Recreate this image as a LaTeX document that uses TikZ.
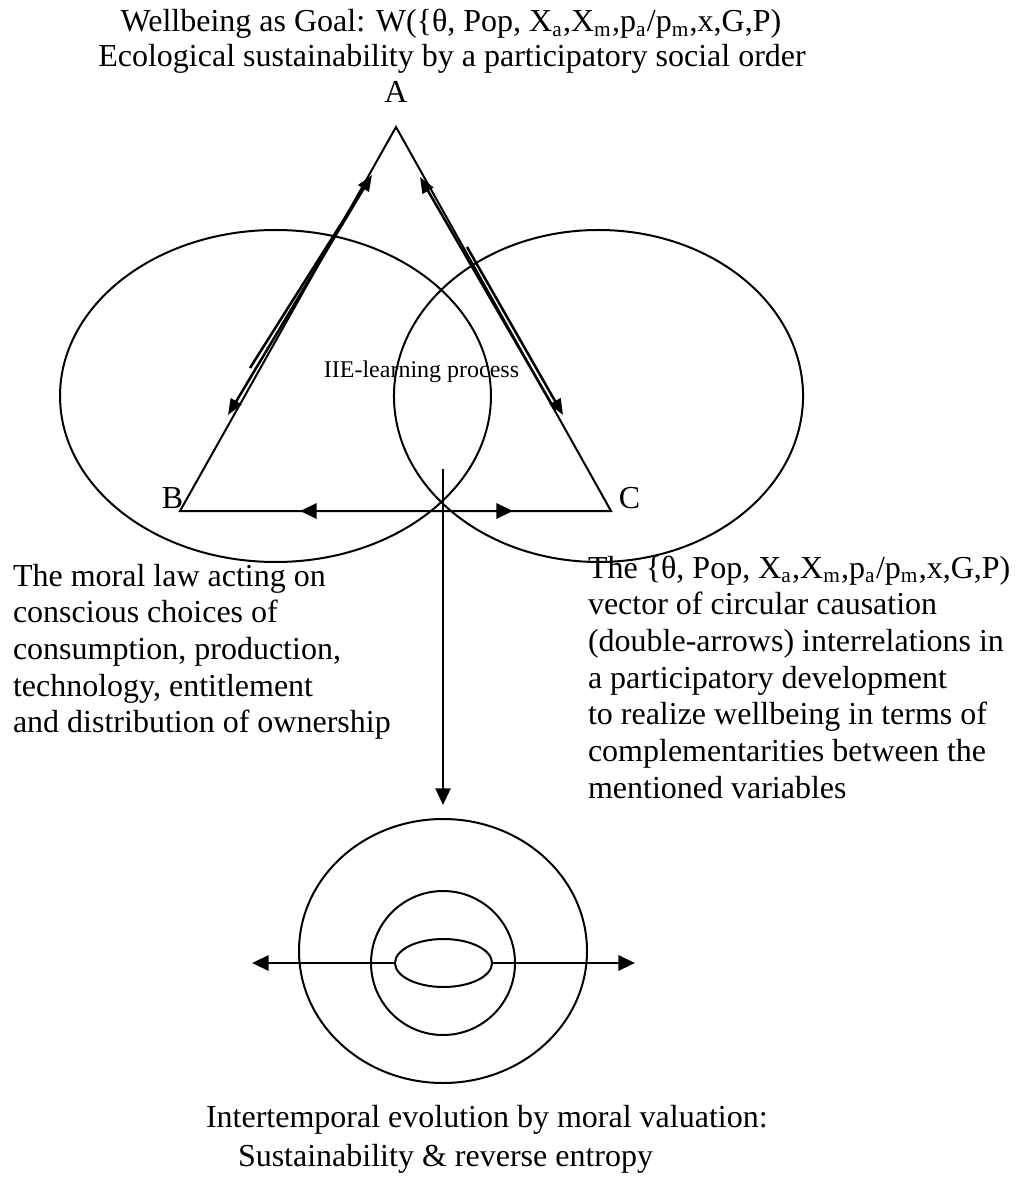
\documentclass[tikz,border=0pt]{standalone}
\usepackage{fontspec}
\setmainfont{Liberation Serif}
\usetikzlibrary{arrows.meta,shapes.geometric}
\tikzset{
  bigtip/.tip={Triangle[length=6.2pt,width=5.6pt]},
  sidetip/.tip={Triangle[length=6pt,width=4.6pt]}
}
\begin{document}
\begin{tikzpicture}[x=0.375pt,y=-0.375pt,
  line width=0.75pt,
  tip/.style={line width=0.95pt, -{sidetip}},
  thick arrow/.style={line width=1.1pt},
  bigtext/.style={font=\fontsize{12}{13.76}\selectfont, inner sep=0pt},
  ring/.style={draw, ellipse, inner sep=0pt, line width=0.75pt}]
\useasboundingbox (0,0) rectangle (1025,1182);

% titles
\node[bigtext, anchor=base] (t1) at (451,32) {Wellbeing as Goal: W(\{θ, Pop, X\textsubscript{a},X\textsubscript{m},p\textsubscript{a}/p\textsubscript{m},x,G,P)};
\node[bigtext, anchor=base] (t2) at (452,67) {Ecological sustainability by a participatory social order};

% triangle vertices
\coordinate (A) at (396,127);
\coordinate (B) at (180,511);
\coordinate (C) at (611,511);
\draw (A) -- (B) -- (C) -- cycle;
\node[bigtext, anchor=base] (la) at (396,103) {A};
\node[bigtext, anchor=base] (lb) at (172.5,508) {B};
\node[bigtext, anchor=base] (lc) at (629.5,508) {C};

% ellipses
\node[ring, minimum width=161.6pt, minimum height=124.5pt] (E1) at (275.5,396) {};
\node[ring, minimum width=153.4pt, minimum height=124.5pt] (E2) at (598.5,396) {};
\node[font=\fontsize{9}{10}\selectfont, inner sep=0pt, anchor=base] (iie) at (421.5,378) {IIE-learning process};

% side double arrows
\coordinate (l1s) at (250,368); \coordinate (l1e) at (372,175);
\coordinate (l2s) at (367,183); \coordinate (l2e) at (228,415);
\coordinate (r1s) at (555,410); \coordinate (r1e) at (420,177);
\coordinate (r2s) at (467,247); \coordinate (r2e) at (563,415);
\draw[tip] (l1s) -- (l1e);
\draw[tip] (l2s) -- (l2e);
\draw[tip] (r1s) -- (r1e);
\draw[tip] (r2s) -- (r2e);

% base double arrow
\coordinate (bl) at (300,511); \coordinate (br) at (513,511);
\draw[thick arrow, {bigtip}-{bigtip}] (bl) -- (br);

% vertical arrow
\coordinate (vs) at (443,469);
\coordinate (ve) at (443,805);
\draw[line width=0.8pt, -{bigtip}] (vs) -- (ve);

% texts (base anchor = baseline of last line)
\node[bigtext, anchor=base west, align=left] (lefttext) at (12,732.8) {The moral law acting on\\conscious choices of\\consumption, production,\\technology, entitlement\\and distribution of ownership};
\node[bigtext, anchor=base west, align=left] (righttext) at (587,798.2) {The \{θ, Pop, X\textsubscript{a},X\textsubscript{m},p\textsubscript{a}/p\textsubscript{m},x,G,P)\\vector of circular causation\\(double-arrows) interrelations in\\a participatory development\\to realize wellbeing in terms of\\complementarities between the\\mentioned variables};

% bottom rings
\node[ring, minimum width=108pt, minimum height=99pt] (O1) at (443,951) {};
\node[ring, minimum width=54pt, minimum height=54pt] (O2) at (443,963) {};
\node[ring, minimum width=36.4pt, minimum height=18pt] (O3) at (443.5,963) {};
\coordinate (hl) at (252,963);
\coordinate (hr) at (635,963);
\draw[thick arrow, {bigtip}-] (hl) -- (O3.west);
\draw[thick arrow, -{bigtip}] (O3.east) -- (hr);

\node[bigtext, anchor=base west] (b1) at (205,1127) {Intertemporal evolution by moral valuation:};
\node[bigtext, anchor=base west] (b2) at (237,1166) {Sustainability \& reverse entropy};
\end{tikzpicture}
\end{document}
